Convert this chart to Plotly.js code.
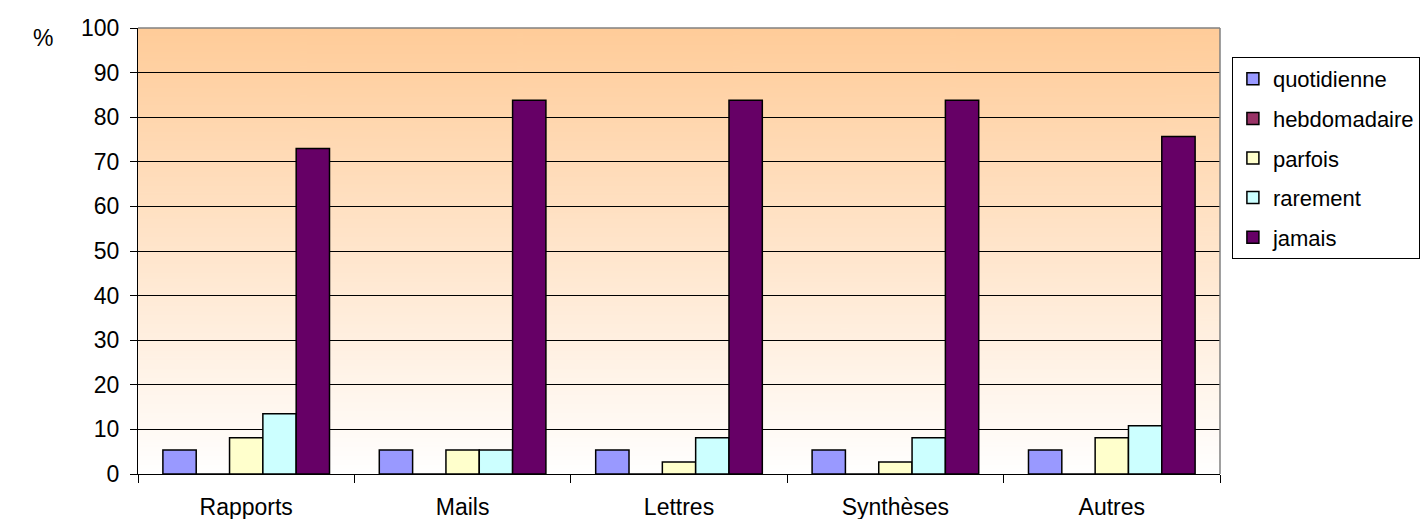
<!DOCTYPE html>
<html>
<head>
<meta charset="utf-8">
<script src="https://cdn.plot.ly/plotly-3.0.1.min.js"></script>
<style>body{margin:0;padding:0;background:#fff}#chart{width:1425px;height:519px}</style>
</head>
<body>
<div id="chart"></div>
<script>
var categories = ["Rapports", "Mails", "Lettres", "Synthèses", "Autres"];
var seriesNames = ["quotidienne", "hebdomadaire", "parfois", "rarement", "jamais"];
var quotidienne = [5.4, 5.4, 5.4, 5.4, 5.4];
var hebdomadaire = [0, 0, 0, 0, 0];
var parfois = [8.1, 5.4, 2.7, 2.7, 8.1];
var rarement = [13.5, 5.4, 8.1, 8.1, 10.8];
var jamais = [73.0, 83.8, 83.8, 83.8, 75.7];
var yTicks = [0, 10, 20, 30, 40, 50, 60, 70, 80, 90, 100];

var seriesValues = [quotidienne, hebdomadaire, parfois, rarement, jamais];
var colors = ["#9999FF", "#993366", "#FFFFCC", "#CCFFFF", "#660066"];

// gradient background image
var cv = document.createElement('canvas');
cv.width = 10; cv.height = 400;
var ctx = cv.getContext('2d');
var g = ctx.createLinearGradient(0, 0, 0, 400);
g.addColorStop(0, '#FFCC99');
g.addColorStop(1, '#FFFFFF');
ctx.fillStyle = g;
ctx.fillRect(0, 0, 10, 400);
var bgUrl = cv.toDataURL();

var traces = seriesNames.map(function (name, i) {
  return {
    type: 'bar',
    name: name,
    x: categories,
    y: seriesValues[i],
    legendgroup: 'g' + i,
    marker: {color: colors[i], line: {color: '#000000', width: 1.5}},
    hoverinfo: 'x+y+name'
  };
});

var font = {family: 'Arial, "Liberation Sans", sans-serif', size: 23, color: '#000'};

var layout = {
  width: 1425, height: 519,
  margin: {l: 138, r: 205, t: 28, b: 45, autoexpand: false},
  paper_bgcolor: '#ffffff',
  plot_bgcolor: 'rgba(0,0,0,0)',
  font: font,
  barmode: 'group',
  bargap: 0.23,
  bargroupgap: 0,
  showlegend: true,
  legend: {
    x: 1.011, xanchor: 'left', y: 0.935, yanchor: 'top',
    bordercolor: '#000', borderwidth: 1, bgcolor: '#fff',
    font: {family: font.family, size: 22, color: '#000'},
    tracegroupgap: 8,
    itemwidth: 30
  },
  xaxis: {
    type: 'category',
    showline: true, linecolor: '#000', linewidth: 1,
    ticks: 'outside', tickson: 'boundaries', ticklen: 8, tickcolor: '#000',
    ticklabelstandoff: 12,
    showgrid: false, zeroline: false,
    tickfont: font,
    fixedrange: true
  },
  yaxis: {
    range: [0, 100],
    tickvals: yTicks,
    ticktext: yTicks.map(String),
    showline: true, linecolor: '#000', linewidth: 1,
    ticks: 'outside', ticklen: 7, tickcolor: '#000',
    ticklabelstandoff: 6,
    showgrid: true, gridcolor: '#000', gridwidth: 1,
    zeroline: false,
    tickfont: font,
    fixedrange: true
  },
  images: [{
    source: bgUrl, xref: 'paper', yref: 'paper',
    x: 0, y: 1, sizex: 1, sizey: 1,
    xanchor: 'left', yanchor: 'top',
    sizing: 'stretch', layer: 'below'
  }],
  shapes: [
    {type: 'line', xref: 'paper', yref: 'paper', x0: 0, x1: 1, y0: 1, y1: 1, line: {color: '#808080', width: 1.5}},
    {type: 'line', xref: 'paper', yref: 'paper', x0: 1, x1: 1, y0: 0, y1: 1, line: {color: '#808080', width: 1.5}}
  ],
  annotations: [{
    text: '%', xref: 'paper', yref: 'paper', x: -0.088, y: 0.978,
    xanchor: 'center', yanchor: 'middle', showarrow: false, font: font
  }]
};

Plotly.newPlot('chart', traces, layout, {displayModeBar: false, staticPlot: true});
</script>
</body>
</html>
